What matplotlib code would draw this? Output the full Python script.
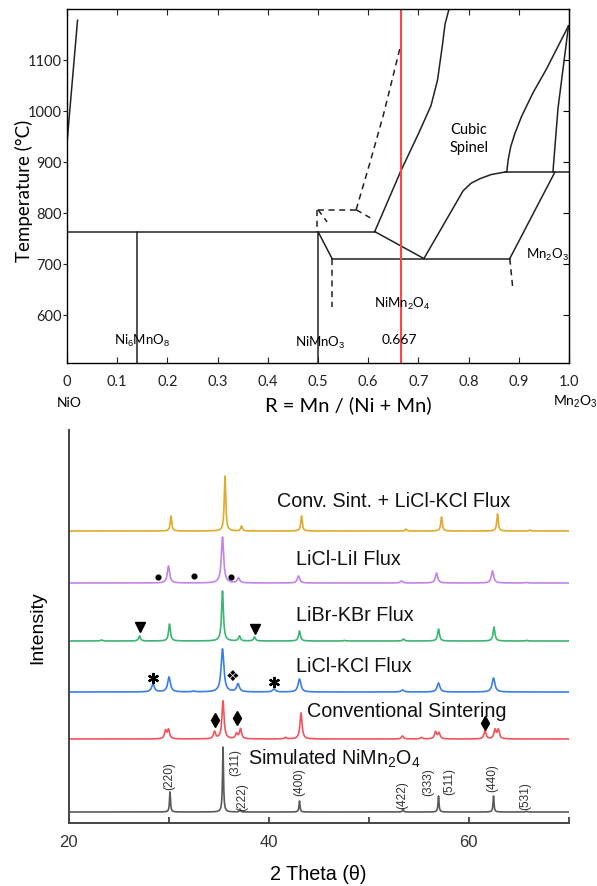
import numpy as np
import matplotlib
matplotlib.use("Agg")
import matplotlib.pyplot as plt

plt.rcParams['mathtext.fontset'] = 'custom'
plt.rcParams['mathtext.rm'] = 'Liberation Sans'
plt.rcParams['mathtext.it'] = 'Liberation Sans:italic'

# ---------------- Phase diagram data (R, T) ----------------
ticks_R = [0, 0.1, 0.2, 0.3, 0.4, 0.5, 0.6, 0.7, 0.8, 0.9, 1.0]
tick_R_labels = ['0', '0.1', '0.2', '0.3', '0.4', '0.5', '0.6', '0.7', '0.8', '0.9', '1.0']
ticks_T = [600, 700, 800, 900, 1000, 1100]

solid_curves = [
    ([0.0, 0.021], [937, 1178]),
    ([0.0, 0.613], [763, 763]),
    ([0.140, 0.140], [505, 763]),
    ([0.5, 0.5, 0.528], [505, 763, 710]),
    ([0.528, 0.882], [710, 710]),
    ([0.613, 0.711], [763, 710]),
    ([0.613, 0.665, 0.700, 0.725, 0.738, 0.748, 0.753, 0.761], [763, 882, 955, 1010, 1060, 1130, 1170, 1200]),
    ([0.711, 0.789, 0.805, 0.823, 0.845, 0.873], [710, 843, 858, 867, 875, 880]),
    ([0.873, 1.0], [880, 880]),
    ([0.882, 0.972], [710, 880]),
    ([0.876, 0.879, 0.884, 0.892, 0.905, 0.928, 0.955, 0.999], [880, 905, 930, 955, 988, 1035, 1082, 1167]),
    ([0.968, 0.978, 0.999], [880, 1004, 1167]),
]
dashed_curves = [
    ([0.576, 0.604, 0.630, 0.663], [806, 900, 991, 1122]),
    ([0.576, 0.499], [806, 806]),
    ([0.576, 0.604], [806, 790]),
    ([0.499, 0.499], [806, 763]),
    ([0.500, 0.518], [806, 782]),
    ([0.528, 0.528], [710, 615]),
    ([0.882, 0.888], [710, 652]),
]
R_target = 0.665

# ---------------- XRD data ----------------
series_names = ["Simulated", "Conventional Sintering", "LiCl-KCl Flux",
                "LiBr-KBr Flux", "LiCl-LiI Flux", "Conv. Sint. + LiCl-KCl Flux"]
offsets = [0, 73, 120, 171, 229, 281]
colors = ['#5a5a5a', '#f2545b', '#3a7ee6', '#3cb472', '#c183ec', '#e0aa2a']
widths = [0.12, 0.25, 0.33, 0.22, 0.28, 0.18]

sim_pos = [30.15, 35.45, 37.15, 43.1, 53.45, 57.0, 62.5, 65.8]
sim_h = [20, 65, 3, 11, 3, 16, 16, 0.8]
conv_pos = [29.7, 30.0, 34.6, 35.45, 36.8, 37.2, 41.7, 43.25, 53.4, 55.3, 56.7, 57.05, 61.65, 62.65, 62.98]
conv_h = [8, 9, 7, 38, 5, 10, 1.5, 26, 3, 1.5, 7, 6, 8, 9, 9]
kcl_pos = [28.45, 30.05, 32.5, 35.4, 36.95, 40.55, 43.1, 53.4, 57.0, 62.5]
kcl_h = [8, 15, 0.8, 43, 8, 3, 13, 2, 9, 14]
kbr_pos = [23.3, 27.1, 30.1, 35.4, 37.1, 38.6, 43.1, 47.6, 53.5, 57.0, 62.55, 65.8]
kbr_h = [1, 5, 17, 50, 5, 4, 10, 0.6, 2, 12, 14, 0.6]
lii_pos = [30.0, 35.4, 37.0, 43.0, 53.3, 56.8, 62.4, 65.8]
lii_h = [17, 46, 5, 7, 2, 10, 12, 0.5]
comb_pos = [30.25, 35.65, 37.3, 43.3, 53.75, 57.3, 62.9, 66.15]
comb_h = [15, 55, 5, 15, 2, 14, 17, 1]
peak_pos = [sim_pos, conv_pos, kcl_pos, kbr_pos, lii_pos, comb_pos]
peak_h = [sim_h, conv_h, kcl_h, kbr_h, lii_h, comb_h]

hkl_labels = ['(220)', '(311)', '(222)', '(400)', '(422)', '(333)', '(511)', '(440)', '(531)']
hkl_x = [30.05, 36.65, 37.35, 43.1, 53.4, 56.0, 58.1, 62.4, 65.65]
hkl_y = [37, 50, 16, 31, 18, 31, 31, 35, 17]

dot_x, dot_y = [28.9, 32.5, 36.2], [235, 236, 235]
tri_x, tri_y = [27.1, 38.6], [185, 183]
ast_x, ast_y = [28.45, 40.55], [134, 130]
clover_x, clover_y = [36.45], [137]
dia_x, dia_y = [34.65, 36.85, 61.65], [92, 94, 89]

label_texts = ["Simulated NiMn$_2$O$_4$", "Conventional Sintering", "LiCl-KCl Flux",
               "LiBr-KBr Flux", "LiCl-LiI Flux", "Conv. Sint. + LiCl-KCl Flux"]
label_x = [38.0, 43.85, 42.8, 42.8, 42.8, 40.85]
label_y = [54, 101, 146, 197, 253, 311]

# ---------------- Figure ----------------
fig = plt.figure(figsize=(5.97, 8.87), dpi=100)
ax1 = fig.add_axes([67/597, 1-364/887, 502/597, 354/887])
ax2 = fig.add_axes([68.5/597, 1-824/887, 500/597, 393/887])

tf = 'Lato'
for R, T in solid_curves:
    ax1.plot(R, T, color='#222222', lw=1.1)
for R, T in dashed_curves:
    ax1.plot(R, T, color='#222222', lw=1.1, ls=(0, (4, 3)))
ax1.axvline(R_target, color='#ff4545', lw=1.5)
ax1.set_xlim(0, 1)
ax1.set_ylim(505, 1200)
ax1.set_xticks(ticks_R)
ax1.set_xticklabels(tick_R_labels, fontfamily=tf, fontsize=10.5)
ax1.set_yticks(ticks_T)
ax1.set_yticklabels([str(t) for t in ticks_T], fontfamily=tf, fontsize=10.5)
ax1.tick_params(axis='x', direction='in', top=True, bottom=True, length=4, pad=8, colors='#222222')
ax1.tick_params(axis='y', direction='out', left=True, right=False, length=3, pad=1, colors='#222222')
sec = ax1.secondary_yaxis('right')
sec.set_yticks(ticks_T)
sec.set_yticklabels([])
sec.tick_params(direction='in', length=4)
for s in ax1.spines.values():
    s.set_linewidth(1.0)
ax1.set_ylabel('Temperature (°C)', fontfamily=tf, fontsize=13.5)
ax1.yaxis.set_label_coords(-0.068, 0.49)
ax1.text(0.56, -0.115, 'R = Mn / (Ni + Mn)', transform=ax1.transAxes, ha='center', va='center',
         fontfamily=tf, fontsize=14.5)
ax1.text(0.004, -0.11, 'NiO', transform=ax1.transAxes, ha='center', va='center', fontfamily=tf, fontsize=10)
ax1.text(1.012, -0.107, 'Mn$_2$O$_3$', transform=ax1.transAxes, ha='center', va='center', fontfamily=tf, fontsize=10)
ax1.text(0.15, 551, 'Ni$_6$MnO$_8$', ha='center', va='center', fontfamily=tf, fontsize=9.5)
ax1.text(0.504, 546, 'NiMnO$_3$', ha='center', va='center', fontfamily=tf, fontsize=9.5)
ax1.text(0.668, 622, 'NiMn$_2$O$_4$', ha='center', va='center', fontfamily=tf, fontsize=9.5)
ax1.text(0.662, 553, '0.667', ha='center', va='center', fontfamily=tf, fontsize=10)
ax1.text(0.957, 720, 'Mn$_2$O$_3$', ha='center', va='center', fontfamily=tf, fontsize=9.5)
ax1.text(0.80, 947, 'Cubic\nSpinel', ha='center', va='center', fontfamily=tf, fontsize=10.5, linespacing=1.3)

# ---------------- XRD panel ----------------
xs = np.linspace(20, 70, 6001)
for i in range(len(series_names)):
    y = np.zeros_like(xs)
    hw = widths[i] / 2
    for p, h in zip(peak_pos[i], peak_h[i]):
        y += h / (1 + ((xs - p) / hw) ** 2)
    ax2.plot(xs, y + offsets[i], color=colors[i], lw=1.2)
    ax2.text(label_x[i], label_y[i], label_texts[i], ha='left', va='center',
             fontfamily='Liberation Sans', fontsize=14.2, color='#111111')

for lab, x, y in zip(hkl_labels, hkl_x, hkl_y):
    ax2.text(x, y, lab, rotation=90, ha='center', va='center', fontfamily='Liberation Sans',
             fontsize=8.6, color='#333333')

ax2.plot(dot_x, dot_y, 'o', color='black', ms=3.4, ls='none')
ax2.plot(tri_x, tri_y, 'v', color='black', ms=6.5, ls='none')
ax2.plot(ast_x, ast_y, marker=(6, 2, 0), color='black', ms=8, mew=1.6, ls='none')
for x, y in zip(clover_x, clover_y):
    ax2.text(x, y, '\u2756', ha='center', va='center', fontfamily='DejaVu Sans', fontsize=11, color='black')
ax2.plot(dia_x, dia_y, 'd', color='black', ms=7, ls='none')

ax2.set_xlim(20, 70)
ax2.set_ylim(-11, 382)
ax2.set_yticks([])
ax2.set_xticks([20, 30, 40, 50, 60, 70])
ax2.set_xticklabels(['20', '', '40', '', '60', ''], fontfamily='Liberation Sans', fontsize=12)
ax2.tick_params(axis='x', direction='in', length=4, width=1.2, pad=8, colors='#333333')
for k in ['top', 'right']:
    ax2.spines[k].set_visible(False)
for k in ['left', 'bottom']:
    ax2.spines[k].set_color('#444444')
    ax2.spines[k].set_linewidth(1.4)
ax2.set_xlabel('2 Theta (\u03b8)', fontfamily='Liberation Sans', fontsize=14.2, labelpad=11)
ax2.set_ylabel('Intensity', fontfamily='Liberation Sans', fontsize=14, labelpad=16)

fig.savefig('out.png', dpi=100)
